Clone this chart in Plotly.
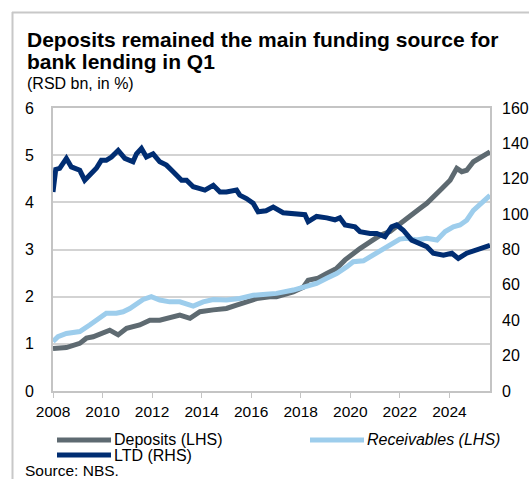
import plotly.graph_objects as go

# ---------------- data ----------------
ltd_years = [2008.0, 2008.11, 2008.27, 2008.54, 2008.74, 2009.08, 2009.28, 2009.55, 2009.75, 2009.95,
             2010.15, 2010.36, 2010.63, 2010.9, 2011.23, 2011.37, 2011.57, 2011.77, 2012.04, 2012.31,
             2012.58, 2012.85, 2013.19, 2013.39, 2013.66, 2013.93, 2014.13, 2014.47, 2014.74, 2015.0,
             2015.41, 2015.54, 2015.81, 2016.08, 2016.28, 2016.6, 2016.89, 2017.29, 2017.56, 2017.83,
             2018.17, 2018.3, 2018.64, 2019.05, 2019.38, 2019.58, 2019.79, 2020.19, 2020.39, 2020.8,
             2021.07, 2021.4, 2021.67, 2021.87, 2022.14, 2022.48, 2022.81, 2023.09, 2023.35, 2023.76,
             2024.1, 2024.36, 2024.7, 2025.1, 2025.64]
ltd_values = [112.5, 125.3, 125.9, 131.5, 126.7, 124.8, 119.2, 122.7, 125.9, 130.4,
              130.4, 132.3, 136.0, 131.5, 129.6, 134.1, 137.1, 132.3, 134.1, 129.6,
              127.7, 124.0, 119.2, 119.2, 115.5, 114.4, 113.6, 116.3, 112.5, 112.5,
              113.6, 110.7, 108.8, 106.1, 101.3, 101.9, 104.0, 100.8, 100.5, 99.7,
              99.7, 95.7, 98.7, 97.9, 96.8, 97.9, 93.9, 92.8, 90.1, 89.1,
              89.1, 87.2, 92.8, 93.9, 90.9, 85.3, 83.5, 81.6, 77.9, 76.8,
              77.9, 74.9, 77.9, 79.7, 82.4]

dep_years = [2008.0, 2008.54, 2009.08, 2009.35, 2009.62, 2009.95, 2010.29, 2010.63, 2010.97, 2011.5,
             2011.91, 2012.31, 2012.58, 2013.12, 2013.53, 2013.93, 2014.47, 2015.0, 2015.41, 2015.81,
             2016.22, 2016.75, 2017.02, 2017.7, 2018.1, 2018.3, 2018.7, 2019.05, 2019.45, 2019.79,
             2020.12, 2020.39, 2020.8, 2021.2, 2021.6, 2022.0, 2022.41, 2022.81, 2023.09, 2023.35,
             2023.69, 2024.03, 2024.3, 2024.5, 2024.7, 2024.97, 2025.3, 2025.64]
dep_values = [0.90, 0.92, 1.01, 1.12, 1.15, 1.22, 1.29, 1.19, 1.33, 1.40,
              1.50, 1.50, 1.54, 1.61, 1.54, 1.68, 1.72, 1.75, 1.82, 1.89,
              1.96, 2.00, 2.00, 2.10, 2.20, 2.35, 2.39, 2.49, 2.60, 2.78,
              2.92, 3.02, 3.16, 3.30, 3.38, 3.55, 3.73, 3.87, 3.98, 4.13,
              4.29, 4.47, 4.72, 4.65, 4.68, 4.86, 4.96, 5.07]

rec_years = [2008.0, 2008.2, 2008.54, 2009.08, 2009.48, 2009.82, 2010.15, 2010.56, 2010.83, 2011.1,
             2011.37, 2011.64, 2011.97, 2012.31, 2012.71, 2013.12, 2013.66, 2014.06, 2014.47, 2015.0,
             2015.54, 2016.08, 2016.6, 2017.02, 2017.7, 2018.1, 2018.64, 2019.05, 2019.45, 2019.85,
             2020.12, 2020.53, 2020.93, 2021.34, 2021.74, 2022.0, 2022.28, 2022.68, 2023.09, 2023.5,
             2023.83, 2024.16, 2024.43, 2024.7, 2024.97, 2025.3, 2025.64]
rec_values = [1.05, 1.15, 1.22, 1.26, 1.40, 1.54, 1.65, 1.65, 1.68, 1.75,
              1.86, 1.94, 2.00, 1.93, 1.89, 1.89, 1.80, 1.89, 1.94, 1.93,
              1.96, 2.03, 2.05, 2.07, 2.14, 2.19, 2.28, 2.39, 2.49, 2.63,
              2.74, 2.76, 2.88, 3.00, 3.13, 3.22, 3.24, 3.20, 3.24, 3.20,
              3.38, 3.48, 3.52, 3.62, 3.83, 3.98, 4.15]

x_ticks = [2008, 2010, 2012, 2014, 2016, 2018, 2020, 2022, 2024]
left_ticks = [0, 1, 2, 3, 4, 5, 6]
right_ticks = [0, 20, 40, 60, 80, 100, 120, 140, 160]

title_line1 = "Deposits remained the main funding source for"
title_line2 = "bank lending in Q1"
subtitle = "(RSD bn, in %)"
source = "Source: NBS."
names = ["Deposits (LHS)", "Receivables (LHS)", "LTD (RHS)"]

C_DEP = "#5e6a71"
C_REC = "#9dcdec"
C_LTD = "#002d72"
GRID = "#d3d3d3"
AXIS = "#c4c4c4"
FONT = "Liberation Sans, Arial, sans-serif"

# ---------------- geometry ----------------
W, H = 529, 479
L, R, T, B = 53, 490, 108, 391  # plot area in pixels


def px(x):
    return (x - L) / (R - L)


def py(y):
    return (B - y) / (B - T)


fig = go.Figure()
fig.add_trace(go.Scatter(x=dep_years, y=dep_values, name=names[0], mode="lines",
                         line=dict(color=C_DEP, width=5), yaxis="y"))
fig.add_trace(go.Scatter(x=rec_years, y=rec_values, name=names[1], mode="lines",
                         line=dict(color=C_REC, width=5), yaxis="y"))
fig.add_trace(go.Scatter(x=ltd_years, y=ltd_values, name=names[2], mode="lines",
                         line=dict(color=C_LTD, width=5), yaxis="y2"))

fig.update_layout(
    width=W, height=H,
    margin=dict(l=L, r=W - R, t=T, b=H - B, pad=0, autoexpand=False),
    paper_bgcolor="white", plot_bgcolor="white",
    showlegend=False,
    font=dict(family=FONT, size=15, color="black"),
    xaxis=dict(range=[2008, 2025.64], tickvals=x_ticks, ticktext=[str(t) for t in x_ticks],
               showgrid=False, zeroline=False, showline=True, linecolor=AXIS, linewidth=2,
               mirror=True, ticks="outside", ticklen=5, tickcolor=AXIS, tickwidth=1,
               tickfont=dict(size=15.5), automargin=False),
    yaxis=dict(range=[0, 6], tickvals=left_ticks, showgrid=True, gridcolor=GRID, gridwidth=1.5,
               zeroline=False, showline=True, linecolor=AXIS, linewidth=2, mirror=True,
               ticks="", tickfont=dict(size=16), ticklabelstandoff=14, automargin=False),
    yaxis2=dict(range=[0, 160], tickvals=right_ticks, overlaying="y", side="right",
                showgrid=False, zeroline=False, showline=False, ticks="",
                tickfont=dict(size=16), ticklabelstandoff=11, automargin=False),
)

# outer frame (top and left edges)
fig.add_shape(type="line", xref="paper", yref="paper", x0=px(12), x1=px(540), y0=py(12.5), y1=py(12.5),
              line=dict(color="#c8c8c8", width=2))
fig.add_shape(type="line", xref="paper", yref="paper", x0=px(12.5), x1=px(12.5), y0=py(12), y1=py(490),
              line=dict(color="#c8c8c8", width=2))

# title & subtitle
fig.add_annotation(text="<b>%s</b>" % title_line1, xref="paper", yref="paper", x=px(25), y=py(26),
                   xanchor="left", yanchor="top", showarrow=False, font=dict(size=21))
fig.add_annotation(text="<b>%s</b>" % title_line2, xref="paper", yref="paper", x=px(25), y=py(48),
                   xanchor="left", yanchor="top", showarrow=False, font=dict(size=21))
fig.add_annotation(text=subtitle, xref="paper", yref="paper", x=px(25), y=py(73),
                   xanchor="left", yanchor="top", showarrow=False, font=dict(size=16))

# legend (manual)
legend_items = [(names[0], C_DEP, 57, 440, False), (names[1], C_REC, 310, 440, True),
                (names[2], C_LTD, 57, 455, False)]
for name, col, x0, yy, ital in legend_items:
    fig.add_shape(type="line", xref="paper", yref="paper", x0=px(x0), x1=px(x0 + 54),
                  y0=py(yy), y1=py(yy), line=dict(color=col, width=5))
    fig.add_annotation(text=("<i>%s</i>" % name) if ital else name, xref="paper", yref="paper",
                       x=px(x0 + 55), y=py(yy), xanchor="left", yanchor="middle",
                       showarrow=False, font=dict(size=16))

fig.add_annotation(text=source, xref="paper", yref="paper", x=px(23), y=py(470),
                   xanchor="left", yanchor="middle", showarrow=False, font=dict(size=15.5))

fig.write_html("out.html")
